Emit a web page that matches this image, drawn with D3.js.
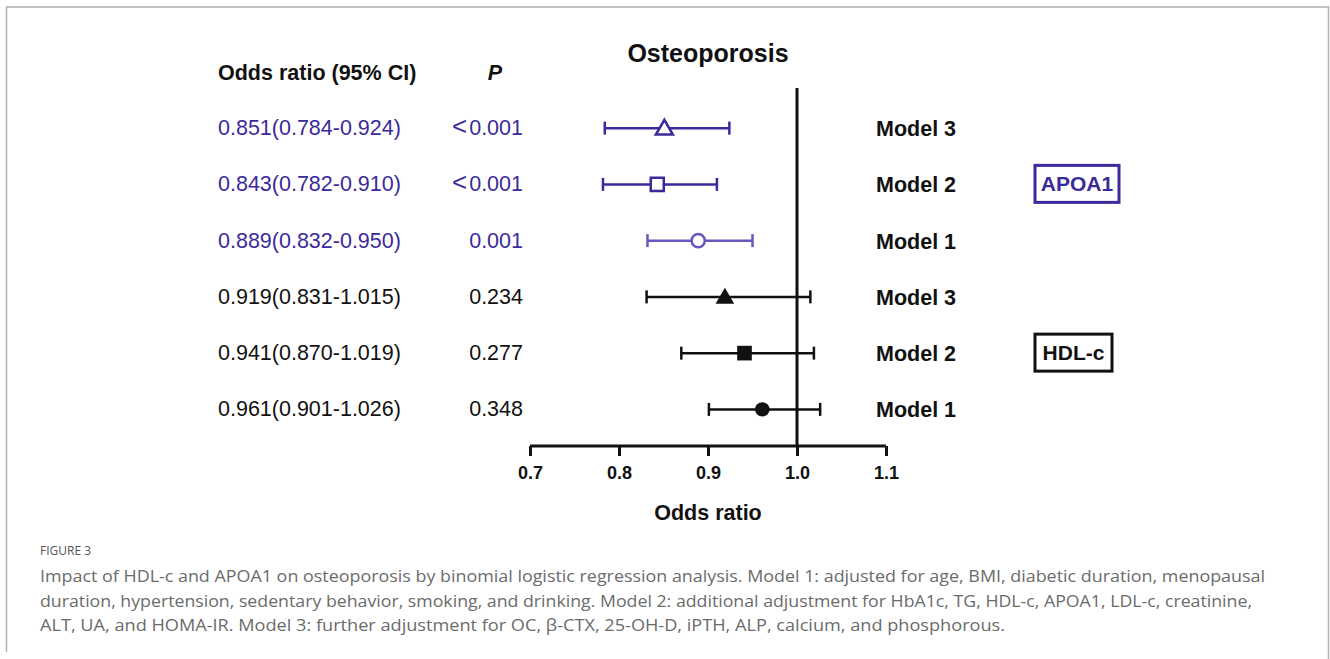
<!DOCTYPE html>
<html><head><meta charset="utf-8">
<script src="https://cdn.jsdelivr.net/npm/d3@7"></script>
<style>body{margin:0;background:#fff}svg{display:block}</style>
</head><body>
<svg id="c" width="1330" height="659"></svg>
<script>
const models = ["Model 3","Model 2","Model 1","Model 3","Model 2","Model 1"];
const groups = ["APOA1","APOA1","APOA1","HDL-c","HDL-c","HDL-c"];
const orValues = [0.851,0.843,0.889,0.919,0.941,0.961];
const lowerCI = [0.784,0.782,0.832,0.831,0.870,0.901];
const upperCI = [0.924,0.910,0.950,1.015,1.019,1.026];
const orLabels = ["0.851(0.784-0.924)","0.843(0.782-0.910)","0.889(0.832-0.950)","0.919(0.831-1.015)","0.941(0.870-1.019)","0.961(0.901-1.026)"];
const pPrefix = ["<","<","","","",""];
const pLabels = ["0.001","0.001","0.001","0.234","0.277","0.348"];
const markerShapes = ["triangle","square","circle","triangle","square","circle"];
const markerFilled = [false,false,false,true,true,true];
const xTicks = [0.7,0.8,0.9,1.0,1.1];
const captionLines = [
 "Impact of HDL-c and APOA1 on osteoporosis by binomial logistic regression analysis. Model 1: adjusted for age, BMI, diabetic duration, menopausal",
 "duration, hypertension, sedentary behavior, smoking, and drinking. Model 2: additional adjustment for HbA1c, TG, HDL-c, APOA1, LDL-c, creatinine,",
 "ALT, UA, and HOMA-IR. Model 3: further adjustment for OC, β-CTX, 25-OH-D, iPTH, ALP, calcium, and phosphorous."
];

const svg = d3.select("#c");
const F = "Liberation Sans, Arial, sans-serif";
const blue = "#3b2a9c", blueLight = "#6a55bd";
const colorFor = i => groups[i]==="APOA1" ? (models[i]==="Model 1" ? blueLight : blue) : "#111";
const textColorFor = i => groups[i]==="APOA1" ? blue : "#111";

// frame
svg.append("path").attr("d","M6.5,652 L6.5,7 L1328.5,7 L1328.5,659").attr("fill","none").attr("stroke","#b0b0b0").attr("stroke-width",1.5);

const x = d3.scaleLinear().domain([0.7,1.1]).range([530,886]);
const y = d3.scaleBand().domain(d3.range(6)).range([100,437.5]).paddingInner(0).paddingOuter(0);
const yc = i => y(i) + y.bandwidth()/2;

// title
svg.append("text").attr("x",708).attr("y",62).attr("text-anchor","middle").attr("font-family",F).attr("font-weight","bold").attr("font-size",25).attr("fill","#111").text("Osteoporosis");

// headers
svg.append("text").attr("x",218).attr("y",80).attr("font-family",F).attr("font-weight","bold").attr("font-size",21.5).attr("fill","#111").text("Odds ratio (95% CI)");
svg.append("text").attr("x",495).attr("y",80).attr("text-anchor","middle").attr("font-family",F).attr("font-weight","bold").attr("font-style","italic").attr("font-size",21.5).attr("fill","#111").text("P");

// axis
const axisG = svg.append("g").attr("transform","translate(0,446)")
  .call(d3.axisBottom(x).tickValues(xTicks).tickFormat(d3.format(".1f")).tickSize(10).tickSizeOuter(0));
axisG.select(".domain").attr("stroke","#111").attr("stroke-width",3).attr("d","M530,0H886");
axisG.selectAll(".tick line").attr("stroke","#111").attr("stroke-width",3);
axisG.selectAll(".tick text").attr("font-family",F).attr("font-weight","bold").attr("font-size",18).attr("fill","#111").attr("dy","0.71em").attr("y",20);

// reference line
svg.append("line").attr("x1",x(1.0)).attr("x2",x(1.0)).attr("y1",88).attr("y2",446).attr("stroke","#111").attr("stroke-width",3);

// x-axis title
svg.append("text").attr("x",708).attr("y",520).attr("text-anchor","middle").attr("font-family",F).attr("font-weight","bold").attr("font-size",21.5).attr("fill","#111").text("Odds ratio");

// rows
const rows = svg.append("g").selectAll("g").data(d3.range(6)).join("g");
rows.append("line").attr("x1",i=>x(lowerCI[i])).attr("x2",i=>x(upperCI[i])).attr("y1",yc).attr("y2",yc).attr("stroke",colorFor).attr("stroke-width",2.5);
rows.append("line").attr("x1",i=>x(lowerCI[i])).attr("x2",i=>x(lowerCI[i])).attr("y1",i=>yc(i)-6.5).attr("y2",i=>yc(i)+6.5).attr("stroke",colorFor).attr("stroke-width",2.5);
rows.append("line").attr("x1",i=>x(upperCI[i])).attr("x2",i=>x(upperCI[i])).attr("y1",i=>yc(i)-6.5).attr("y2",i=>yc(i)+6.5).attr("stroke",colorFor).attr("stroke-width",2.5);
const symMap = {triangle:d3.symbolTriangle, square:d3.symbolSquare, circle:d3.symbolCircle};
const symSize = i => {
  const s = markerShapes[i], f = markerFilled[i];
  if (s==="triangle") return f ? 150 : 125;
  if (s==="square") return f ? 215 : 170;
  return f ? 165 : 135;
};
rows.append("path")
  .attr("d", i => d3.symbol().type(symMap[markerShapes[i]]).size(symSize(i))())
  .attr("transform", i => `translate(${x(orValues[i])},${yc(i)+(markerShapes[i]==="triangle"?1.5:0)})`)
  .attr("fill", i => markerFilled[i] ? colorFor(i) : "#fff")
  .attr("stroke", colorFor).attr("stroke-width", i => markerFilled[i]?0:2.5);

rows.append("text").attr("x",218).attr("y",i=>yc(i)+7).attr("font-family",F).attr("font-size",21.5).attr("fill",textColorFor).text(i=>orLabels[i]);
const pt = rows.append("text").attr("x",523).attr("y",i=>yc(i)+7).attr("text-anchor","end").attr("font-family",F).attr("font-size",21.5).attr("fill",textColorFor);
pt.append("tspan").attr("font-size",26).attr("dx",0).attr("dy",0).text(i=>pPrefix[i] ? pPrefix[i] : "").attr("transform",null);
pt.append("tspan").attr("dx",i=>pPrefix[i]?2:0).text(i=>pLabels[i]);

rows.append("text").attr("x",876).attr("y",i=>yc(i)+8).attr("font-family",F).attr("font-weight","bold").attr("font-size",21.5).attr("fill","#111").text(i=>models[i]);

// group boxes
const boxes = [{name:"APOA1", row:1, color:blue, w:84},{name:"HDL-c", row:4, color:"#111", w:77}];
boxes.forEach(b=>{
  const cy = yc(b.row);
  svg.append("rect").attr("x",1035).attr("y",cy-19).attr("width",b.w).attr("height",37).attr("fill","none").attr("stroke",b.color).attr("stroke-width",3);
  svg.append("text").attr("x",1035+b.w/2).attr("y",cy+7).attr("text-anchor","middle").attr("font-family",F).attr("font-weight","bold").attr("font-size",21).attr("fill",b.color).text(b.name);
});

// caption
svg.append("text").attr("x",40).attr("y",555).attr("font-family","Open Sans, sans-serif").attr("font-size",12).attr("fill","#555").text("FIGURE 3");
const capW = [1225, 1212, 965];
captionLines.forEach((t,k)=>{
  svg.append("text").attr("x",40).attr("y",582+k*24.5).attr("font-family","Open Sans, sans-serif").attr("font-size",16).attr("fill","#6b6b6b")
    .attr("textLength",capW[k]).attr("lengthAdjust","spacingAndGlyphs").text(t);
});
</script>
</body></html>
